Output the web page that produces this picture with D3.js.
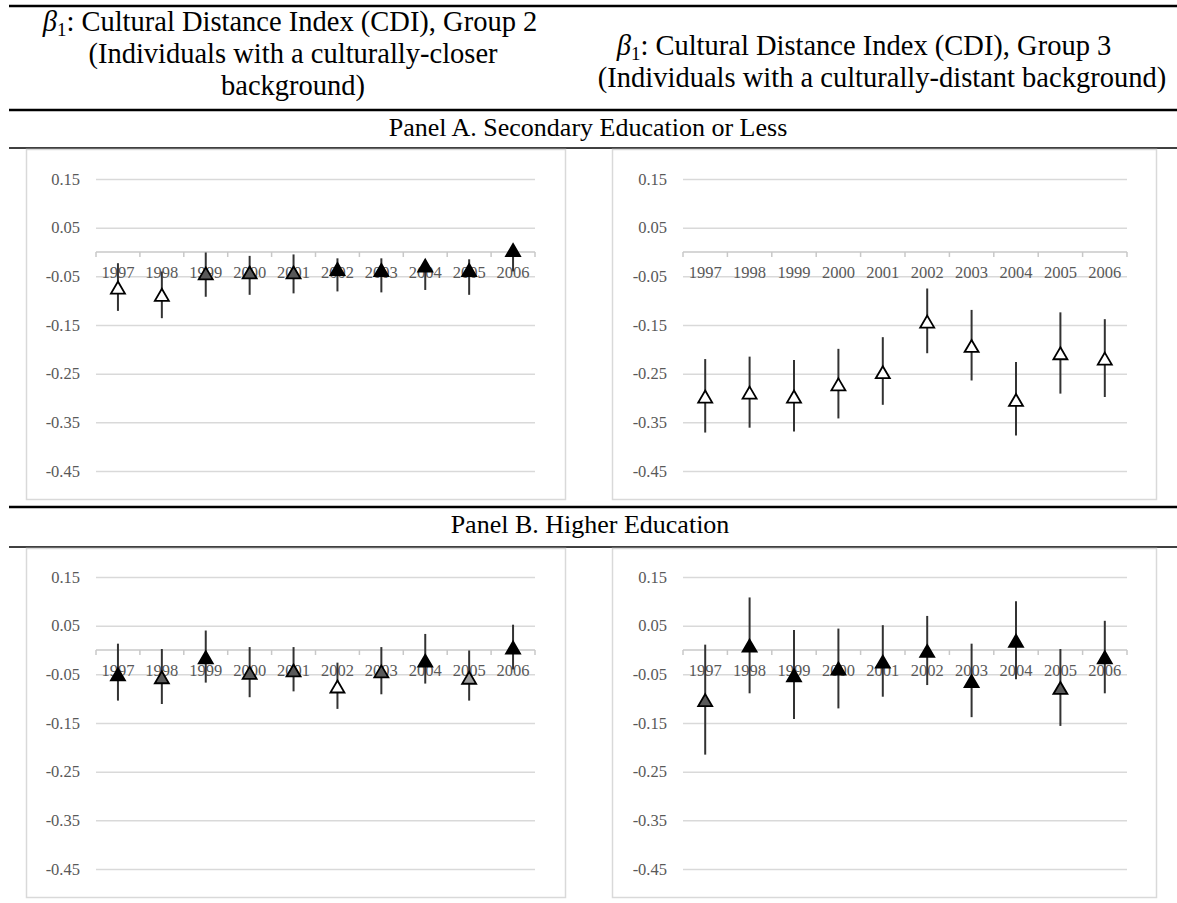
<!DOCTYPE html>
<html>
<head>
<meta charset="UTF-8">
<title>CDI coefficients by year</title>
<script src="https://cdn.jsdelivr.net/npm/d3@7"></script>
<style>
  body { margin: 0; background: #fff; }
  text { font-family: "Liberation Serif", "DejaVu Serif", serif; }
</style>
</head>
<body>
<svg id="chart" width="1177" height="903"></svg>
<script>
// categories and y ticks
var years = [1997, 1998, 1999, 2000, 2001, 2002, 2003, 2004, 2005, 2006];
var yTicks = [0.15, 0.05, -0.05, -0.15, -0.25, -0.35, -0.45];

// fill codes: w = white, g = dark gray, l = light gray, b = black

// Panel A, Group 2
var aG2Est = [-0.073, -0.088, -0.044, -0.042, -0.042, -0.035, -0.037, -0.028, -0.037, 0.004];
var aG2Lo  = [-0.121, -0.136, -0.092, -0.088, -0.085, -0.081, -0.083, -0.078, -0.088, -0.040];
var aG2Hi  = [-0.023, -0.040, -0.001, -0.008, -0.005, -0.013, -0.013, -0.016, -0.015, 0.012];
var aG2Sig = ["w", "w", "g", "g", "g", "b", "b", "b", "b", "b"];

// Panel A, Group 3
var aG3Est = [-0.297, -0.289, -0.297, -0.272, -0.247, -0.143, -0.193, -0.304, -0.208, -0.219];
var aG3Lo  = [-0.371, -0.361, -0.369, -0.342, -0.314, -0.208, -0.264, -0.377, -0.291, -0.298];
var aG3Hi  = [-0.220, -0.215, -0.222, -0.199, -0.175, -0.075, -0.119, -0.226, -0.124, -0.138];
var aG3Sig = ["w", "w", "w", "w", "w", "w", "w", "w", "w", "w"];

// Panel B, Group 2
var bG2Est = [-0.050, -0.056, -0.015, -0.047, -0.042, -0.075, -0.044, -0.022, -0.057, 0.005];
var bG2Lo  = [-0.104, -0.111, -0.067, -0.097, -0.085, -0.121, -0.091, -0.069, -0.104, -0.040];
var bG2Hi  = [0.013, 0.002, 0.040, 0.006, 0.006, -0.026, 0.006, 0.033, -0.001, 0.052];
var bG2Sig = ["b", "g", "b", "g", "g", "w", "g", "b", "l", "b"];

// Panel B, Group 3
var bG3Est = [-0.103, 0.009, -0.052, -0.038, -0.024, -0.002, -0.064, 0.019, -0.078, -0.015];
var bG3Lo  = [-0.215, -0.089, -0.142, -0.120, -0.096, -0.072, -0.138, -0.060, -0.156, -0.089];
var bG3Hi  = [0.011, 0.108, 0.041, 0.044, 0.051, 0.070, 0.013, 0.100, 0.002, 0.060];
var bG3Sig = ["g", "b", "b", "b", "b", "b", "b", "b", "g", "b"];

var fills = { w: "#ffffff", g: "#595959", l: "#a0a0a0", b: "#000000" };
var serif = "Liberation Serif, DejaVu Serif, serif";

var svg = d3.select("#chart");
var fmt = d3.formatLocale({ decimal: ".", thousands: ",", grouping: [3], currency: ["", ""], minus: "-" }).format(".2f");

// layout
var cols = [
    { box: [26, 565], plot: [96, 535] },
    { box: [612, 1156], plot: [683, 1127] }
];
var rows = [
    { box: [149, 499], y: [179, 471] },
    { box: [548, 897], y: [577, 869] }
];

// table rules
function rule(y, w) {
    svg.append("line")
        .attr("x1", 9).attr("x2", 1177)
        .attr("y1", y).attr("y2", y)
        .attr("stroke", "#000").attr("stroke-width", w);
}
rule(6, 2.5);
rule(110, 2.5);
rule(148, 1.5);
rule(507, 2.5);
rule(547, 1.5);

// column headers
function betaLine(cx, y, rest) {
    var t = svg.append("text")
        .attr("x", cx).attr("y", y)
        .attr("text-anchor", "middle")
        .attr("font-family", serif)
        .attr("font-size", 28.5).attr("fill", "#000");
    t.append("tspan").attr("font-style", "italic").text("β");
    t.append("tspan").attr("font-size", 19).attr("dy", 5).text("1");
    t.append("tspan").attr("dy", -5).text(rest);
}
function plainLine(cx, y, s, size) {
    svg.append("text")
        .attr("x", cx).attr("y", y)
        .attr("text-anchor", "middle")
        .attr("font-family", serif)
        .attr("font-size", size).attr("fill", "#000")
        .text(s);
}
betaLine(290, 31, ": Cultural Distance Index (CDI), Group 2");
plainLine(293, 63, "(Individuals with a culturally-closer", 28.5);
plainLine(293, 95, "background)", 28.5);
betaLine(864, 55, ": Cultural Distance Index (CDI), Group 3");
plainLine(882, 87, "(Individuals with a culturally-distant background)", 28.5);

plainLine(588, 136, "Panel A. Secondary Education or Less", 26);
plainLine(590, 533, "Panel B. Higher Education", 26);

function drawPanel(col, row, est, lo, hi, sig) {
    var x = d3.scaleBand().domain(years).range(col.plot);
    var y = d3.scaleLinear().domain([-0.45, 0.15]).range([row.y[1], row.y[0]]);
    var g = svg.append("g");

    // chart frame
    g.append("rect")
        .attr("x", col.box[0] + 0.5).attr("y", row.box[0] + 0.5)
        .attr("width", col.box[1] - col.box[0]).attr("height", row.box[1] - row.box[0])
        .attr("fill", "none").attr("stroke", "#d9d9d9").attr("stroke-width", 1.5);

    // y axis with gridlines
    var ya = g.append("g")
        .attr("transform", "translate(" + col.plot[0] + ",0)")
        .call(d3.axisLeft(y).tickValues(yTicks).tickFormat(fmt)
            .tickSize(-(col.plot[1] - col.plot[0])).tickPadding(16));
    ya.select(".domain").remove();
    ya.selectAll(".tick line").attr("stroke", "#d9d9d9").attr("stroke-width", 1.5);
    ya.selectAll(".tick text")
        .attr("font-family", serif)
        .attr("font-size", 16.5).attr("fill", "#595959");

    // horizontal axis at zero, ticks between categories
    var y0 = y(0);
    g.append("line")
        .attr("x1", col.plot[0]).attr("x2", col.plot[1])
        .attr("y1", y0).attr("y2", y0)
        .attr("stroke", "#c8c8c8").attr("stroke-width", 1.5);
    var bounds = years.map(function(d) { return x(d); }).concat([col.plot[1]]);
    g.selectAll(".xtick").data(bounds).enter().append("line")
        .attr("x1", function(d) { return d; }).attr("x2", function(d) { return d; })
        .attr("y1", y0).attr("y2", y0 + 5)
        .attr("stroke", "#c8c8c8").attr("stroke-width", 1.5);

    var xa = g.append("g")
        .attr("transform", "translate(0," + y0 + ")")
        .call(d3.axisBottom(x).tickSize(0).tickPadding(14));
    xa.select(".domain").remove();
    xa.selectAll(".tick text")
        .attr("font-family", serif)
        .attr("font-size", 16.5).attr("fill", "#595959");

    // confidence intervals
    var cx = function(i) { return x(years[i]) + x.bandwidth() / 2; };
    g.selectAll(".ci").data(years).enter().append("line")
        .attr("x1", function(d, i) { return cx(i); })
        .attr("x2", function(d, i) { return cx(i); })
        .attr("y1", function(d, i) { return y(lo[i]); })
        .attr("y2", function(d, i) { return y(hi[i]); })
        .attr("stroke", "#333").attr("stroke-width", 2);

    // triangle markers
    g.selectAll(".mk").data(years).enter().append("path")
        .attr("d", "M0,-6L7,6L-7,6Z")
        .attr("transform", function(d, i) { return "translate(" + cx(i) + "," + y(est[i]) + ")"; })
        .attr("fill", function(d, i) { return fills[sig[i]]; })
        .attr("stroke", "#000").attr("stroke-width", 1.8)
        .attr("stroke-linejoin", "miter");
}

drawPanel(cols[0], rows[0], aG2Est, aG2Lo, aG2Hi, aG2Sig);
drawPanel(cols[1], rows[0], aG3Est, aG3Lo, aG3Hi, aG3Sig);
drawPanel(cols[0], rows[1], bG2Est, bG2Lo, bG2Hi, bG2Sig);
drawPanel(cols[1], rows[1], bG3Est, bG3Lo, bG3Hi, bG3Sig);
</script>
</body>
</html>
